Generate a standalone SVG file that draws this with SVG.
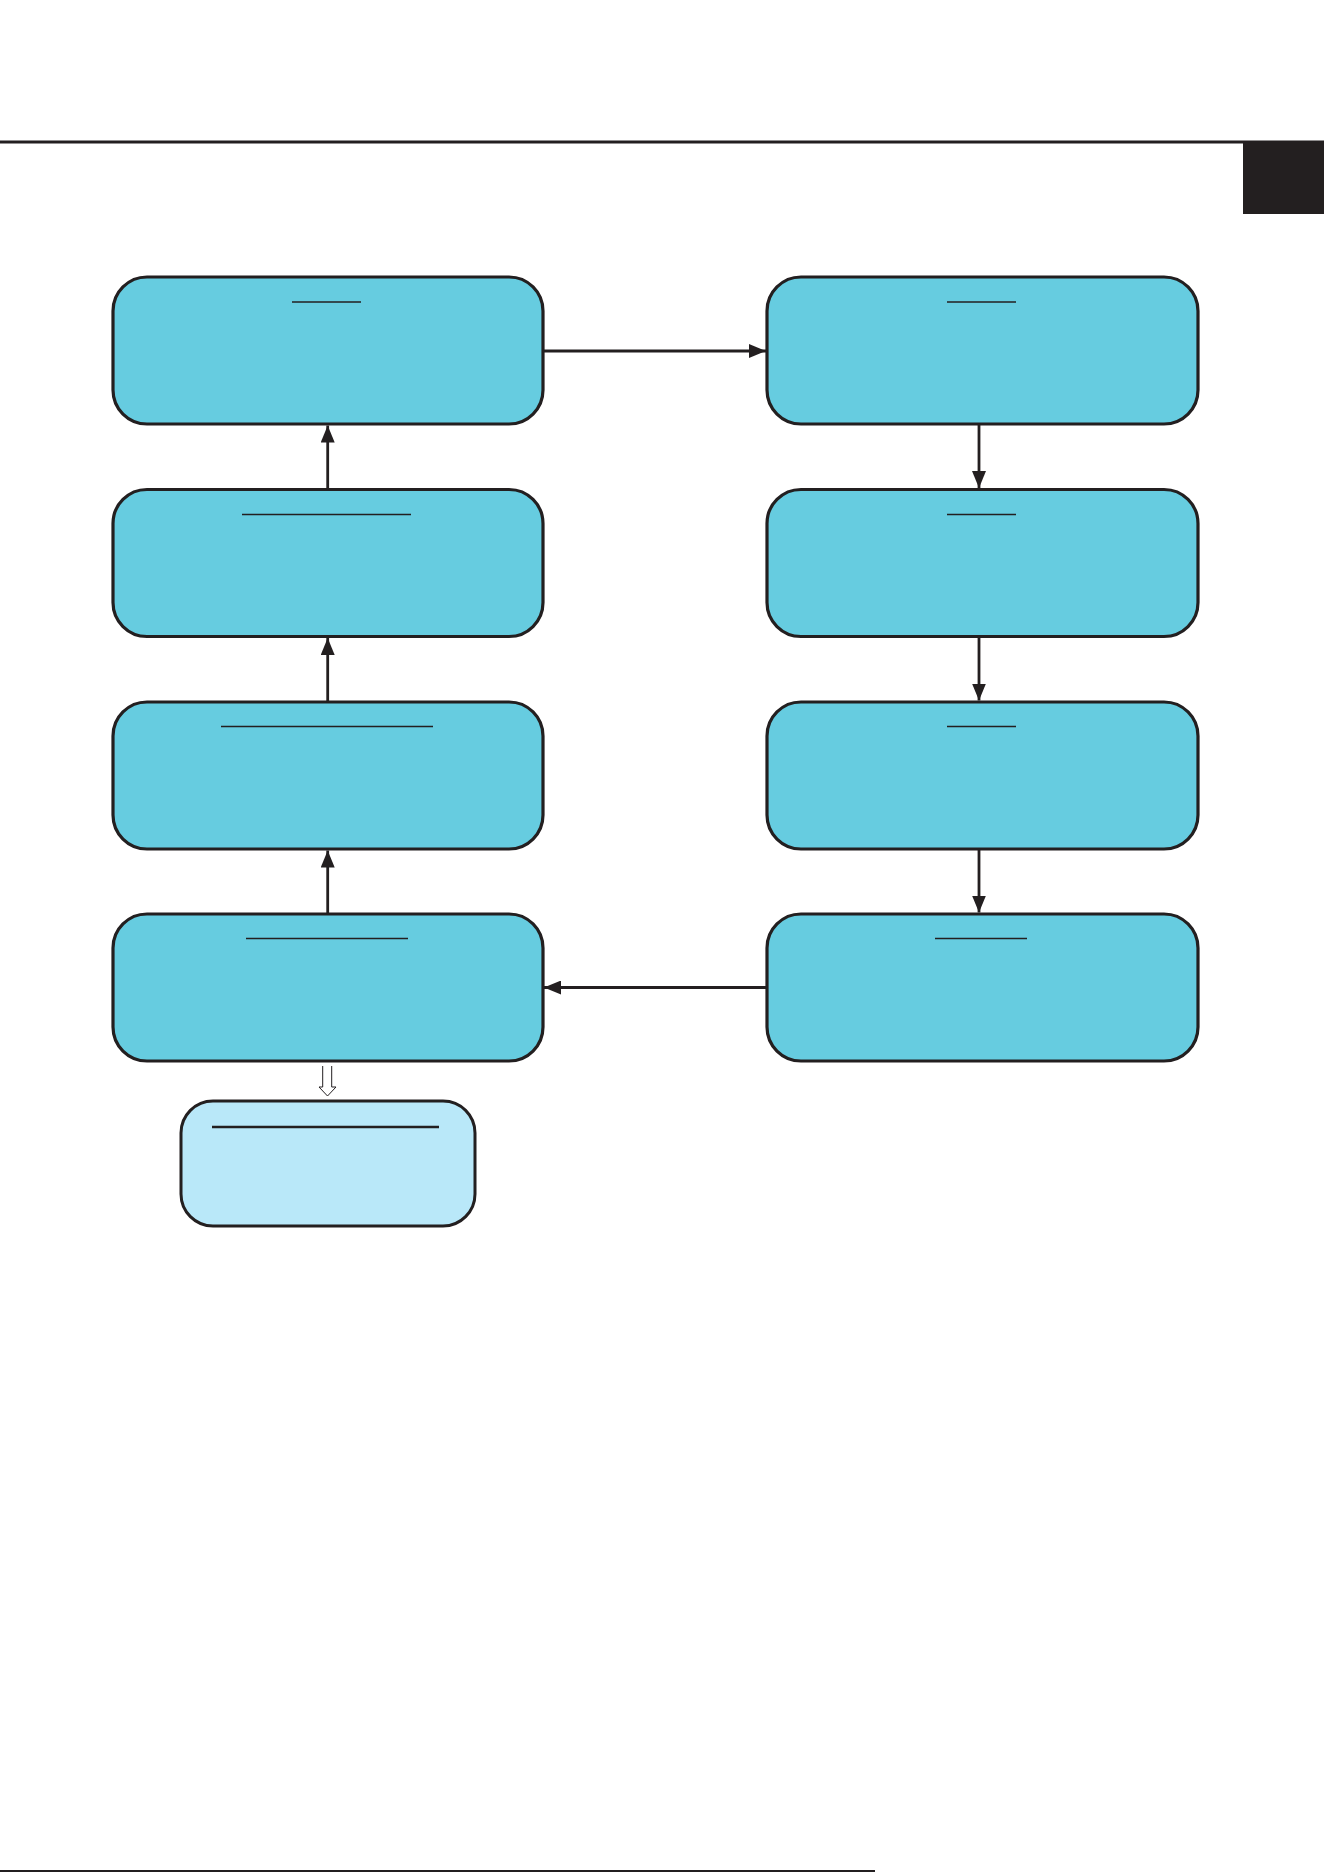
<svg xmlns="http://www.w3.org/2000/svg" width="1324" height="1872" viewBox="0 0 1324 1872">
<style>
.box{fill:#66cce0;stroke:#231f20;stroke-width:3.2}
.box2{fill:#b9e8f9;stroke:#231f20;stroke-width:3}
.ul{stroke:#231f20;stroke-width:1.6}
.ul2{stroke:#231f20;stroke-width:2.4}
.con{stroke:#231f20;stroke-width:2.8;fill:none;marker-end:url(#ah)}
</style>
<defs>
<marker id="ah" markerWidth="17" markerHeight="14" refX="17" refY="7" orient="auto" markerUnits="userSpaceOnUse">
<path d="M0,0 L17,7 L0,14 Z" fill="#231f20"/>
</marker>
</defs>
<rect width="1324" height="1872" fill="#ffffff"/>
<line x1="0" y1="142" x2="1324" y2="142" stroke="#231f20" stroke-width="3"/>
<rect x="1243" y="141" width="81" height="73" fill="#231f20"/>
<line x1="0" y1="1871" x2="875" y2="1871" stroke="#231f20" stroke-width="2"/>
<g id="n1"><rect class="box" x="113" y="277" width="430" height="147" rx="34"/><line class="ul" x1="292" y1="302" x2="361" y2="302"/></g>
<g id="n2"><rect class="box" x="113" y="489.5" width="430" height="147" rx="34"/><line class="ul" x1="242" y1="514.5" x2="411" y2="514.5"/></g>
<g id="n3"><rect class="box" x="113" y="702" width="430" height="147" rx="34"/><line class="ul" x1="221" y1="726.5" x2="433" y2="726.5"/></g>
<g id="n4"><rect class="box" x="113" y="914" width="430" height="147" rx="34"/><line class="ul" x1="246" y1="938.5" x2="408" y2="938.5"/></g>
<g id="n5"><rect class="box" x="767" y="277" width="431" height="147" rx="34"/><line class="ul" x1="947" y1="302" x2="1016" y2="302"/></g>
<g id="n6"><rect class="box" x="767" y="489.5" width="431" height="147" rx="34"/><line class="ul" x1="947" y1="514.5" x2="1016" y2="514.5"/></g>
<g id="n7"><rect class="box" x="767" y="702" width="431" height="147" rx="34"/><line class="ul" x1="947" y1="726.5" x2="1016" y2="726.5"/></g>
<g id="n8"><rect class="box" x="767" y="914" width="431" height="147" rx="34"/><line class="ul" x1="935" y1="938.5" x2="1027" y2="938.5"/></g>
<g id="n9"><rect class="box2" x="181" y="1101" width="294" height="125" rx="32"/><line class="ul2" x1="212" y1="1127" x2="439" y2="1127"/></g>
<g id="connectors">
<line class="con" x1="543" y1="351" x2="766" y2="351"/>
<line class="con" x1="979" y1="424" x2="979" y2="488"/>
<line class="con" x1="979" y1="636.5" x2="979" y2="700.5"/>
<line class="con" x1="979" y1="849" x2="979" y2="912.5"/>
<line class="con" x1="767" y1="987.5" x2="544" y2="987.5"/>
<line class="con" x1="327.7" y1="914" x2="327.7" y2="850.5"/>
<line class="con" x1="327.7" y1="702" x2="327.7" y2="638"/>
<line class="con" x1="327.7" y1="489.5" x2="327.7" y2="425.5"/>
<path d="M322.7,1066 V1087 H319 L327.5,1096 L336,1087 H331.7 V1066" fill="#ffffff" stroke="#231f20" stroke-width="1"/>
</g>
</svg>
